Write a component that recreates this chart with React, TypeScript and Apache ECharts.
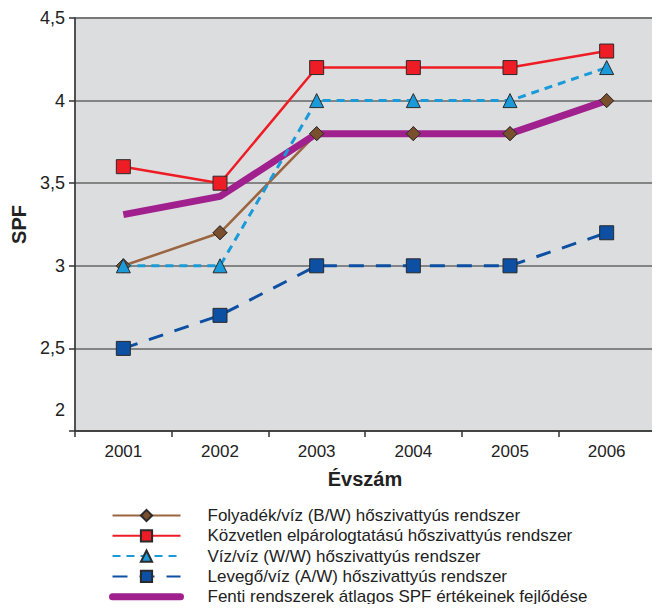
import React, { useEffect, useRef } from "react";
import * as echarts from "echarts";

const years = ["2001", "2002", "2003", "2004", "2005", "2006"];
const bwValues = [3.0, 3.2, 3.8, 3.8, 3.8, 4.0];
const directValues = [3.6, 3.5, 4.2, 4.2, 4.2, 4.3];
const wwValues = [3.0, 3.0, 4.0, 4.0, 4.0, 4.2];
const awValues = [2.5, 2.7, 3.0, 3.0, 3.0, 3.2];
const avgValues = [3.31, 3.42, 3.8, 3.8, 3.8, 4.0];

const seriesNames = [
  "Folyadék/víz (B/W) hőszivattyús rendszer",
  "Közvetlen elpárologtatású hőszivattyús rendszer",
  "Víz/víz (W/W) hőszivattyús rendszer",
  "Levegő/víz (A/W) hőszivattyús rendszer",
  "Fenti rendszerek átlagos SPF értékeinek fejlődése",
];

const FONT = "Liberation Sans, Arial, sans-serif";

export default function App() {
  const ref = useRef<HTMLDivElement>(null);
  useEffect(() => {
    if (!ref.current) return;
    const chart = echarts.init(ref.current, null, { renderer: "svg" });
    const markerBorder = { borderColor: "#2a2a2a", borderWidth: 1 };
    chart.setOption({
      animation: false,
      textStyle: { fontFamily: FONT },
      grid: {
        left: 75,
        top: 18,
        right: 5,
        bottom: 181,
        show: true,
        backgroundColor: "#dcdddf",
        borderColor: "#9a9a9a",
        borderWidth: 1.5,
      },
      xAxis: {
        type: "category",
        data: years,
        boundaryGap: true,
        name: "Évszám",
        nameLocation: "middle",
        nameGap: 38,
        nameTextStyle: { fontSize: 20, fontWeight: "bold", color: "#222", fontFamily: FONT },
        axisLine: { lineStyle: { color: "#333", width: 1.5 } },
        axisTick: { show: true, length: 6, lineStyle: { color: "#333", width: 1.5 } },
        axisLabel: { fontSize: 17, color: "#222", margin: 12, fontFamily: FONT },
      },
      yAxis: {
        type: "value",
        min: 2,
        max: 4.5,
        interval: 0.5,
        name: "SPF",
        nameLocation: "middle",
        nameGap: 45,
        nameRotate: 90,
        nameTextStyle: { fontSize: 20, fontWeight: "bold", color: "#222", fontFamily: FONT },
        axisLine: { show: true, lineStyle: { color: "#333", width: 1.5 } },
        axisTick: { show: true, length: 6, lineStyle: { color: "#333", width: 1.5 } },
        splitLine: { show: true, lineStyle: { color: "#666", width: 1.5 } },
        axisLabel: {
          fontSize: 18,
          color: "#222",
          margin: 10,
          fontFamily: FONT,
          formatter: (v: number) => {
            const s = String(v).replace(".", ",");
            return v === 2 ? "{low|" + s + "}" : s;
          },
          rich: {
            low: { fontSize: 18, color: "#222", fontFamily: FONT, padding: [0, 0, 42, 0] },
          },
        },
      },
      legend: {
        orient: "vertical",
        left: 109,
        top: 507,
        height: 110,
        padding: 0,
        itemWidth: 68,
        itemHeight: 14,
        itemGap: 3.3,
        textStyle: { fontSize: 17, color: "#222", fontFamily: FONT, lineHeight: 17, padding: [0, 0, 0, 22] },
        data: [
          { name: seriesNames[0] },
          { name: seriesNames[1] },
          { name: seriesNames[2] },
          { name: seriesNames[3] },
          {
            name: seriesNames[4],
            lineStyle: { width: 7, cap: "round", color: "#a0218e" },
            itemStyle: { color: "transparent", borderWidth: 0, opacity: 0 },
          },
        ],
      },
      series: [
        {
          name: seriesNames[0],
          type: "line",
          data: bwValues,
          symbol: "diamond",
          symbolSize: 14,
          lineStyle: { color: "#9a6540", width: 2.5 },
          itemStyle: { color: "#7a4f2e", ...markerBorder },
          z: 2,
        },
        {
          name: seriesNames[4],
          type: "line",
          data: avgValues,
          symbol: "none",
          lineStyle: { color: "#a0218e", width: 7 },
          itemStyle: { color: "#a0218e" },
          z: 2,
        },
        {
          name: seriesNames[0],
          type: "scatter",
          data: bwValues,
          symbol: "diamond",
          symbolSize: 14,
          itemStyle: { color: "#7a4f2e", ...markerBorder },
          z: 3,
        },
        {
          name: seriesNames[1],
          type: "line",
          data: directValues,
          symbol: "rect",
          symbolSize: 14,
          lineStyle: { color: "#ee1c25", width: 2.5 },
          itemStyle: { color: "#ee1c25", ...markerBorder },
          z: 3,
        },
        {
          name: seriesNames[2],
          type: "line",
          data: wwValues,
          symbol: "triangle",
          symbolSize: 14,
          lineStyle: { color: "#1a9ad8", width: 3, type: [8, 6] },
          itemStyle: { color: "#1a9ad8", ...markerBorder },
          z: 3,
        },
        {
          name: seriesNames[3],
          type: "line",
          data: awValues,
          symbol: "rect",
          symbolSize: 14,
          lineStyle: { color: "#0d4fa3", width: 3, type: [15, 12] },
          itemStyle: { color: "#0d4fa3", ...markerBorder },
          z: 3,
        },
      ],
    });
    return () => chart.dispose();
  }, []);
  return <div ref={ref} style={{ width: 660, height: 612, margin: -8 }} />;
}
